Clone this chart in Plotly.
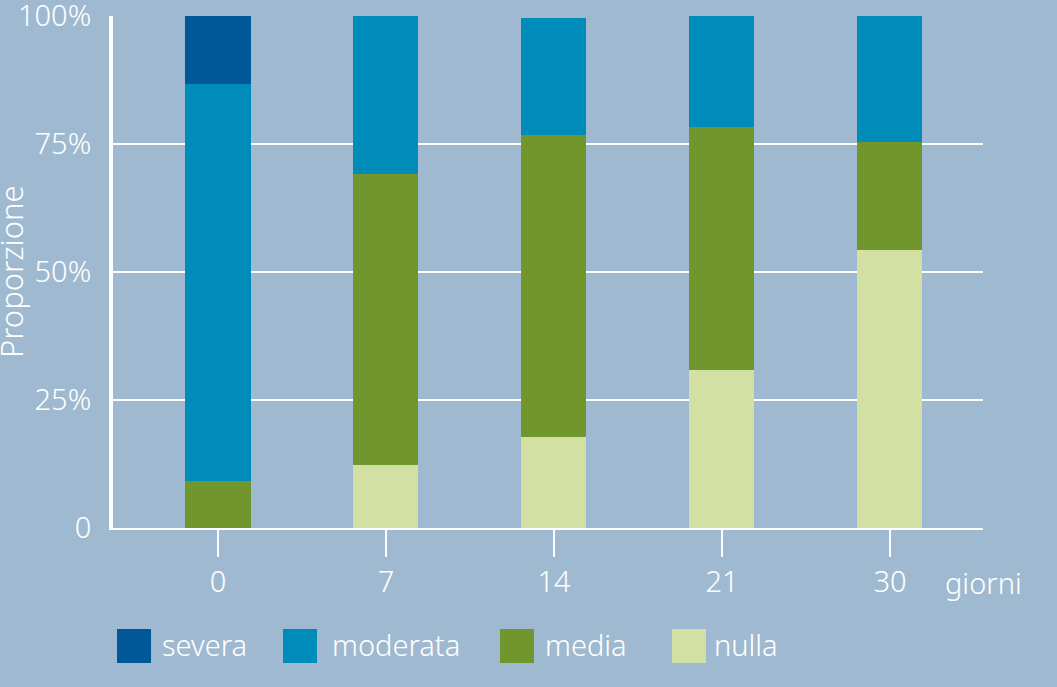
import plotly.graph_objects as go

days = ["0", "7", "14", "21", "30"]
series_names = ["nulla", "media", "moderata", "severa"]
nulla = [0.0, 12.3, 17.7, 30.8, 54.3]
media = [9.1, 56.8, 59.1, 47.5, 21.1]
moderata = [77.7, 30.9, 22.9, 21.7, 24.6]
severa = [13.2, 0.0, 0.0, 0.0, 0.0]
y_tickvals = [0, 25, 50, 75, 100]
y_ticktext = ["0", "25%", "50%", "75%", "100%"]
legend_order = ["severa", "moderata", "media", "nulla"]

colors = {
    "severa": "#005896",
    "moderata": "#008CB8",
    "media": "#72962E",
    "nulla": "#D3E0A3",
}
BG = "#9FBAD0"
FONT = "Noto Sans"
FS = 29
FW = 300

values = {"nulla": nulla, "media": media, "moderata": moderata, "severa": severa}
xpos = list(range(len(days)))

fig = go.Figure()
for name in series_names:
    fig.add_trace(go.Bar(
        x=xpos, y=values[name], name=name,
        marker=dict(color=colors[name], line=dict(width=0)),
        width=0.387, showlegend=False,
    ))

fig.update_layout(
    barmode="stack",
    width=1057, height=687,
    margin=dict(l=113, r=74, t=16, b=159, autoexpand=False),
    paper_bgcolor=BG, plot_bgcolor=BG,
    font=dict(family=FONT, color="white", size=FS, weight=FW),
)
fig.update_xaxes(
    range=[-0.625, 4.554],
    tickvals=xpos, ticktext=days,
    showgrid=False, zeroline=False,
    showline=True, linecolor="white", linewidth=2,
    ticks="outside", ticklen=27, tickwidth=2, tickcolor="white",
    tickfont=dict(size=FS, color="white", weight=FW),
    automargin=False,
)
fig.update_yaxes(
    range=[0, 100],
    tickvals=y_tickvals, ticktext=y_ticktext,
    showgrid=True, gridcolor="white", gridwidth=2,
    zeroline=False,
    showline=True, linecolor="white", linewidth=4,
    ticks="", ticklabelstandoff=12, ticklabeloverflow="allow",
    tickfont=dict(size=FS, color="white", weight=FW),
    automargin=False,
)

# y title
fig.add_annotation(
    text="Proporzione", textangle=-90,
    xref="paper", yref="paper",
    x=(11 - 113) / 870, y=(528 - 272) / 512,
    xanchor="center", yanchor="middle", showarrow=False,
    font=dict(size=31, color="white", weight=FW),
)
# x unit label
fig.add_annotation(
    text="giorni", xref="paper", yref="paper",
    x=(943 - 113) / 870, y=(528 - 582) / 512,
    xanchor="left", yanchor="middle", showarrow=False,
    font=dict(size=FS, color="white", weight=FW),
)

# custom legend
sq_left = [117, 283, 500, 672]
txt_left = [160, 330, 543, 712]
for i, name in enumerate(legend_order):
    fig.add_shape(
        type="rect", xref="paper", yref="paper",
        x0=(sq_left[i] - 113) / 870, x1=(sq_left[i] + 34 - 113) / 870,
        y0=(528 - 629) / 512, y1=(528 - 663) / 512,
        fillcolor=colors[name], line=dict(width=0),
    )
    fig.add_annotation(
        text=name, xref="paper", yref="paper",
        x=(txt_left[i] - 113) / 870, y=(528 - 644) / 512,
        xanchor="left", yanchor="middle", showarrow=False,
        font=dict(size=FS, color="white", weight=FW),
    )

fig.write_html(
    "out.html",
    config={"displayModeBar": False},
    post_script="document.body.style.margin='0';document.body.style.background='" + BG + "';",
)
